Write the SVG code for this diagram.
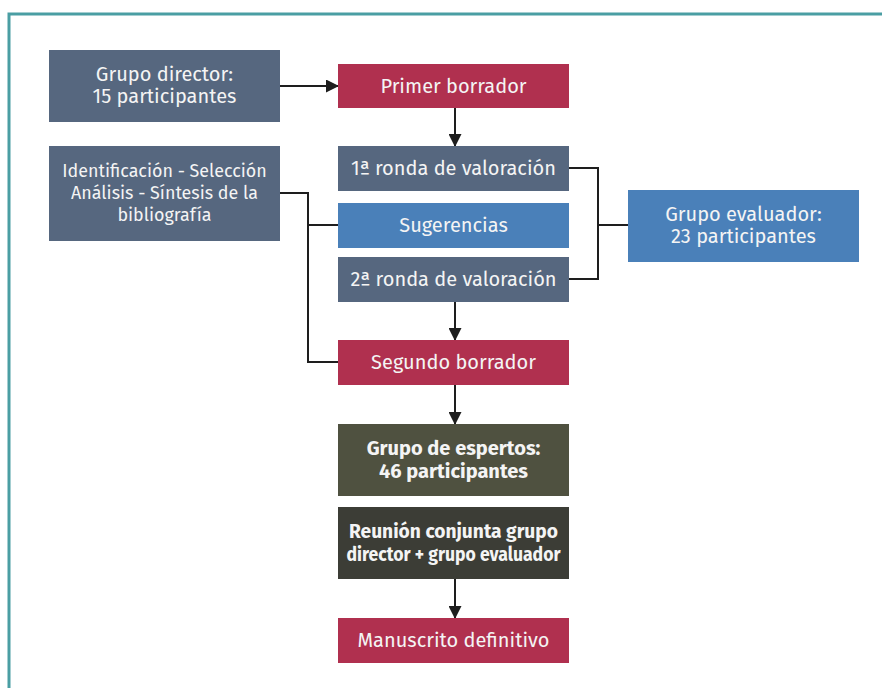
<svg xmlns="http://www.w3.org/2000/svg" width="882" height="688" viewBox="0 0 882 688">
<defs>
<marker id="arr" markerWidth="13" markerHeight="13" refX="12" refY="6.5" orient="auto" markerUnits="userSpaceOnUse">
<path d="M0,0 L13,6.5 L0,13 Z" fill="#1e1e1e"/>
</marker>
<style>
.t{font-family:"Fira Sans","Noto Sans","Open Sans",sans-serif;font-size:20px;fill:#f4f4f4;text-anchor:middle}
.tb{font-family:"Fira Sans","Roboto","Noto Sans",sans-serif;font-size:20px;font-weight:bold;fill:#f4f4f4;text-anchor:middle}
.slate{fill:#56677f}
.red{fill:#b0304f}
.blue{fill:#4a80b9}
.olive{fill:#4f5140}
.dark{fill:#3c3d36}
.c{fill:none;stroke:#1e1e1e;stroke-width:2}
</style>
</defs>
<rect x="0" y="0" width="882" height="688" fill="#ffffff"/>
<path d="M9,688 V14 H882" fill="none" stroke="#4a9ea3" stroke-width="3"/>
<g id="connectors">
<path class="c" d="M280,86 H338" marker-end="url(#arr)"/>
<path class="c" d="M455,108 V146" marker-end="url(#arr)"/>
<path class="c" d="M569,168 H598 V279 H569"/>
<path class="c" d="M598,225 H628"/>
<path class="c" d="M280,193 H308 V362 H338"/>
<path class="c" d="M308,225 H338"/>
<path class="c" d="M455,302 V340" marker-end="url(#arr)"/>
<path class="c" d="M455,385 V424" marker-end="url(#arr)"/>
<path class="c" d="M455,579 V618" marker-end="url(#arr)"/>
</g>
<g id="grupo-director"><rect class="slate" x="49" y="50" width="231" height="72"/><text class="t" x="164.5" y="81">Grupo director:</text><text class="t" x="164.5" y="103">15 participantes</text></g>
<g id="primer-borrador"><rect class="red" x="338" y="64" width="231" height="44"/><text class="t" x="453.5" y="93">Primer borrador</text></g>
<g id="identificacion"><rect class="slate" x="49" y="146" width="231" height="95"/><text class="t" x="164.5" y="177" style="font-size:17.9px">Identificación - Selección</text><text class="t" x="164.5" y="199" style="font-size:17.9px">Análisis - Síntesis de la</text><text class="t" x="164.5" y="221" style="font-size:17.9px">bibliografía</text></g>
<g id="ronda1"><rect class="slate" x="338" y="146" width="231" height="45"/><text class="t" x="453.5" y="175">1ª ronda de valoración</text></g>
<g id="sugerencias"><rect class="blue" x="338" y="203" width="231" height="45"/><text class="t" x="453.5" y="232">Sugerencias</text></g>
<g id="ronda2"><rect class="slate" x="338" y="257" width="231" height="45"/><text class="t" x="453.5" y="286">2ª ronda de valoración</text></g>
<g id="grupo-evaluador"><rect class="blue" x="628" y="190" width="231" height="72"/><text class="t" x="743.5" y="221">Grupo evaluador:</text><text class="t" x="743.5" y="243">23 participantes</text></g>
<g id="segundo-borrador"><rect class="red" x="338" y="340" width="231" height="45"/><text class="t" x="453.5" y="369">Segundo borrador</text></g>
<g id="grupo-espertos"><rect class="olive" x="338" y="424" width="231" height="72"/><text class="tb" x="453.5" y="455">Grupo de espertos:</text><text class="tb" x="453.5" y="478">46 participantes</text></g>
<g id="reunion"><rect class="dark" x="338" y="507" width="231" height="72"/><text class="tb" x="453.5" y="538" textLength="209" lengthAdjust="spacingAndGlyphs">Reunión conjunta grupo</text><text class="tb" x="453.5" y="561" textLength="214" lengthAdjust="spacingAndGlyphs">director + grupo evaluador</text></g>
<g id="manuscrito"><rect class="red" x="338" y="618" width="231" height="45"/><text class="t" x="453.5" y="647">Manuscrito definitivo</text></g>
</svg>
